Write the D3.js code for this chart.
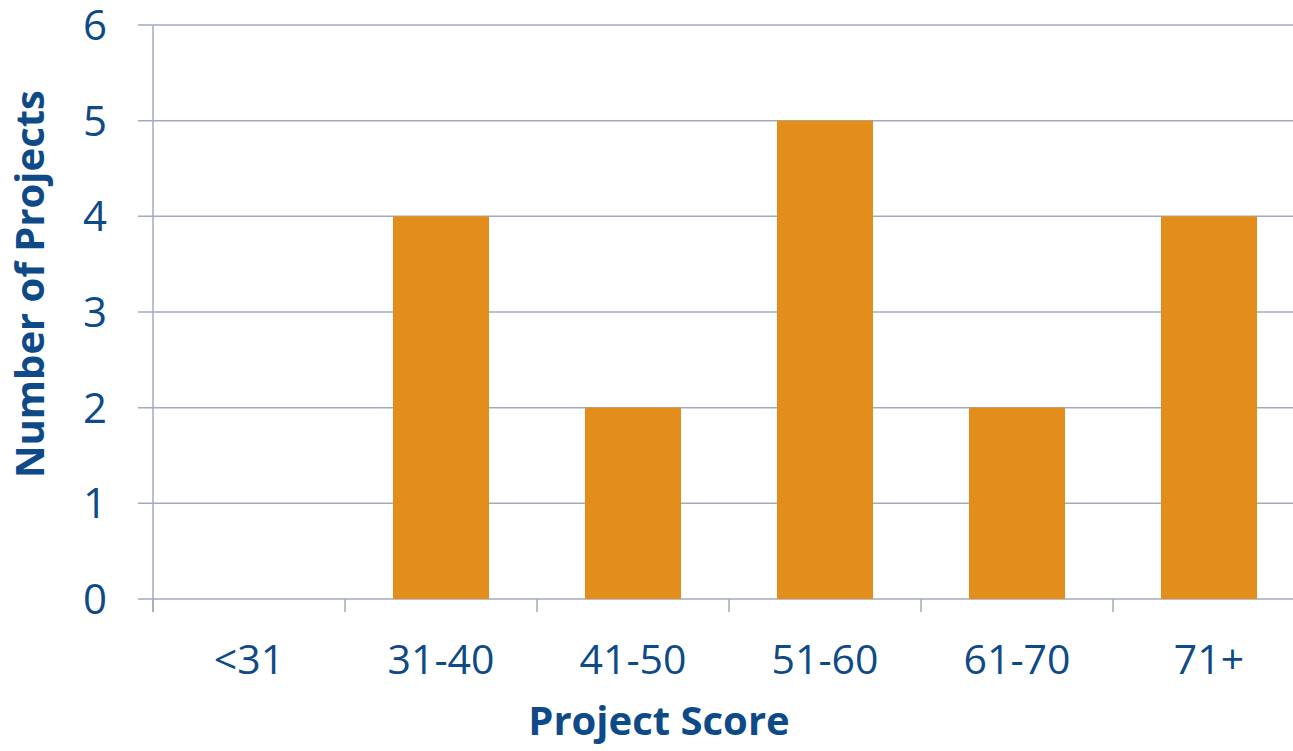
<!DOCTYPE html>
<html><head><meta charset="utf-8">
<script src="https://cdn.jsdelivr.net/npm/d3@7"></script>
<style>body{margin:0;background:#fff}svg{display:block}text{font-family:"Open Sans",sans-serif}</style>
</head><body><svg id="c" width="1293" height="751"></svg>
<script>
const categories = ["<31","31-40","41-50","51-60","61-70","71+"];
const counts = [0,4,2,5,2,4];
const yTicks = [0,1,2,3,4,5,6];

(function(){
const svg = d3.select("#c");
const pLeft=153, pRight=1305, pTop=25, pBottom=599;
const x = d3.scaleBand().domain(categories).range([pLeft,pRight]).paddingInner(0.5).paddingOuter(0.25);
const xb = d3.scaleBand().domain(categories).range([pLeft,pRight]);
const y = d3.scaleLinear().domain([0,6]).range([pBottom,pTop]);
const axisCol="#A3AABF", textCol="#0F4A88";

svg.append("g").selectAll("line").data(yTicks).join("line")
  .attr("x1",pLeft-15).attr("x2",pRight).attr("y1",d=>y(d)).attr("y2",d=>y(d))
  .attr("stroke",axisCol).attr("stroke-width",1.5);
svg.append("line").attr("x1",pLeft).attr("x2",pLeft).attr("y1",pTop).attr("y2",pBottom+13)
  .attr("stroke",axisCol).attr("stroke-width",1.5);
svg.append("g").selectAll("line").data(categories).join("line")
  .attr("x1",d=>xb(d)).attr("x2",d=>xb(d)).attr("y1",pBottom).attr("y2",pBottom+13)
  .attr("stroke",axisCol).attr("stroke-width",1.5);
svg.append("g").selectAll("rect").data(categories).join("rect")
  .attr("x",d=>x(d)).attr("width",x.bandwidth())
  .attr("y",(d,i)=>y(counts[i])).attr("height",(d,i)=>pBottom-y(counts[i]))
  .attr("fill","#E38D1A");
svg.append("g").selectAll("text").data(yTicks).join("text")
  .attr("x",107).attr("y",d=>y(d)).attr("dy","0.36em").attr("text-anchor","end")
  .attr("font-size",42).attr("fill",textCol).text(d=>d);
svg.append("g").selectAll("text").data(categories).join("text")
  .attr("x",d=>xb(d)+xb.bandwidth()/2).attr("y",674).attr("text-anchor","middle")
  .attr("font-size",41).attr("fill",textCol).text(d=>d);
svg.append("text").attr("x",659).attr("y",735).attr("text-anchor","middle")
  .attr("font-size",40).attr("font-weight","bold").attr("fill",textCol).text("Project Score");
svg.append("text").attr("transform","translate(44,284) rotate(-90)").attr("text-anchor","middle")
  .attr("font-size",40).attr("font-weight","bold").attr("fill",textCol).text("Number of Projects");
})();
</script></body></html>
